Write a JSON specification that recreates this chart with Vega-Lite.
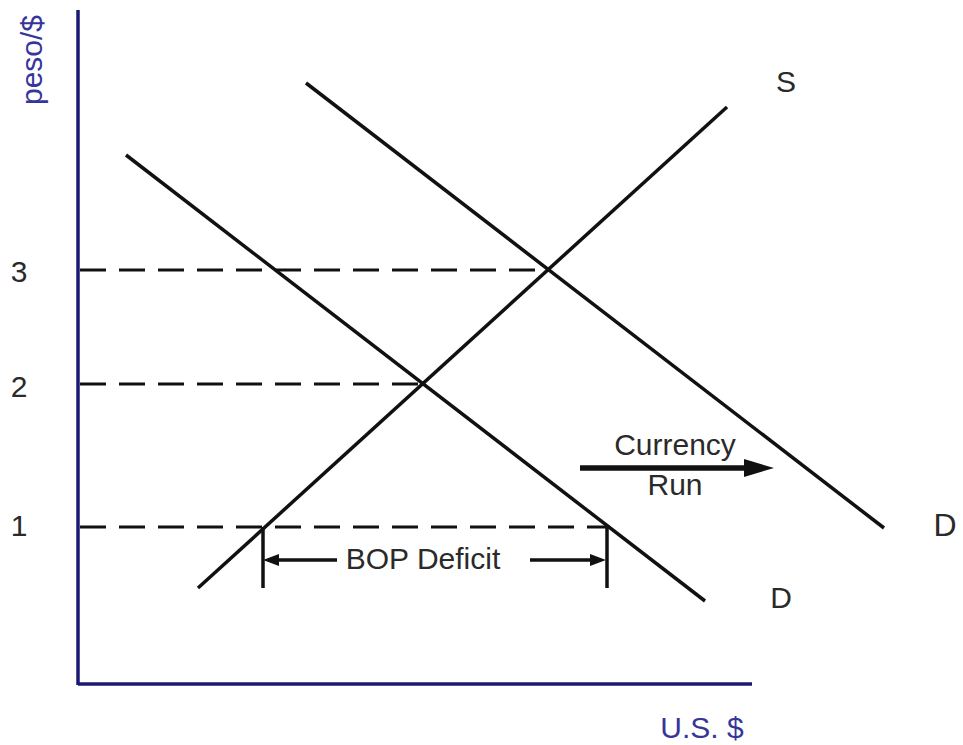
{
  "$schema": "https://vega.github.io/schema/vega-lite/v6.json",
  "width": 963,
  "height": 745,
  "autosize": {"type": "fit", "contains": "padding"},
  "padding": 0,
  "background": "white",
  "config": {"view": {"stroke": null}},
  "datasets": {
    "axes": [
      {"x": 78, "y": 10, "x2": 78, "y2": 685},
      {"x": 78, "y": 684, "x2": 752, "y2": 684}
    ],
    "curves": [
      {"name": "S", "x": 198, "y": 588, "x2": 727, "y2": 107},
      {"name": "D1", "x": 126, "y": 155, "x2": 705, "y2": 601},
      {"name": "D2", "x": 306, "y": 83, "x2": 884, "y2": 528}
    ],
    "dashed": [
      {"price": 3, "x": 80, "y": 270, "x2": 548, "y2": 270},
      {"price": 2, "x": 80, "y": 384, "x2": 422, "y2": 384},
      {"price": 1, "x": 80, "y": 527, "x2": 610, "y2": 527}
    ],
    "bop": [
      {"x": 263, "y": 527, "x2": 263, "y2": 588},
      {"x": 607, "y": 527, "x2": 607, "y2": 588},
      {"x": 276, "y": 560, "x2": 337, "y2": 560},
      {"x": 530, "y": 560, "x2": 592, "y2": 560}
    ],
    "heads": [
      {"dir": "left", "x": 271, "y": 560},
      {"dir": "right", "x": 598, "y": 560}
    ],
    "run": [
      {"x": 580, "y": 468, "x2": 748, "y2": 468}
    ],
    "runhead": [
      {"x": 759, "y": 468}
    ],
    "labels": [
      {"t": "3", "x": 19, "y": 282, "size": 30, "w": "normal"},
      {"t": "2", "x": 19, "y": 397, "size": 30, "w": "normal"},
      {"t": "1", "x": 19, "y": 536, "size": 30, "w": "normal"},
      {"t": "S", "x": 786, "y": 92, "size": 30, "w": "normal"},
      {"t": "D", "x": 945, "y": 536, "size": 32, "w": "bold"},
      {"t": "D", "x": 781, "y": 608, "size": 30, "w": "normal"},
      {"t": "BOP Deficit", "x": 423, "y": 569, "size": 30, "w": "normal"},
      {"t": "Currency", "x": 675, "y": 455, "size": 30, "w": "normal"},
      {"t": "Run", "x": 675, "y": 495, "size": 30, "w": "normal"}
    ],
    "axislabels": [
      {"t": "U.S. $", "x": 702, "y": 738, "angle": 0},
      {"t": "peso/$", "x": 42, "y": 60, "angle": 270}
    ]
  },
  "encoding": {
    "x": {"field": "x", "type": "quantitative", "scale": {"domain": [0, 963], "nice": false, "zero": false}, "axis": null},
    "y": {"field": "y", "type": "quantitative", "scale": {"domain": [0, 745], "nice": false, "zero": false, "reverse": true}, "axis": null}
  },
  "layer": [
    {
      "data": {"name": "dashed"},
      "mark": {"type": "rule", "color": "#111111", "strokeWidth": 3, "strokeDash": [26, 13]},
      "encoding": {"x2": {"field": "x2"}, "y2": {"field": "y2"}}
    },
    {
      "data": {"name": "curves"},
      "mark": {"type": "rule", "color": "#111111", "strokeWidth": 3.5},
      "encoding": {"x2": {"field": "x2"}, "y2": {"field": "y2"}}
    },
    {
      "data": {"name": "bop"},
      "mark": {"type": "rule", "color": "#111111", "strokeWidth": 3.5},
      "encoding": {"x2": {"field": "x2"}, "y2": {"field": "y2"}}
    },
    {
      "data": {"name": "heads"},
      "mark": {"type": "point", "filled": true, "color": "#111111", "opacity": 1, "size": 256},
      "encoding": {
        "shape": {
          "field": "dir",
          "type": "nominal",
          "scale": {"domain": ["left", "right"], "range": ["M1,-0.75L-1,0L1,0.75Z", "M-1,-0.75L1,0L-1,0.75Z"]},
          "legend": null
        }
      }
    },
    {
      "data": {"name": "run"},
      "mark": {"type": "rule", "color": "#111111", "strokeWidth": 5.5},
      "encoding": {"x2": {"field": "x2"}, "y2": {"field": "y2"}}
    },
    {
      "data": {"name": "runhead"},
      "mark": {"type": "point", "filled": true, "color": "#111111", "opacity": 1, "size": 900, "shape": "M-1,-0.6L1,0L-1,0.6Z"}
    },
    {
      "data": {"name": "axes"},
      "mark": {"type": "rule", "color": "#1a1a72", "strokeWidth": 3.5},
      "encoding": {"x2": {"field": "x2"}, "y2": {"field": "y2"}}
    },
    {
      "data": {"name": "labels"},
      "mark": {"type": "text", "font": "Liberation Sans", "color": "#2a2a2a", "align": "center", "baseline": "alphabetic"},
      "encoding": {
        "text": {"field": "t"},
        "size": {"field": "size", "type": "quantitative", "scale": null},
        "fontWeight": {"field": "w", "type": "nominal", "scale": null}
      }
    },
    {
      "data": {"name": "axislabels"},
      "mark": {"type": "text", "font": "Liberation Sans", "fontSize": 30, "color": "#35359a", "align": "center", "baseline": "alphabetic"},
      "encoding": {
        "text": {"field": "t"},
        "angle": {"field": "angle", "type": "quantitative", "scale": null}
      }
    }
  ]
}
